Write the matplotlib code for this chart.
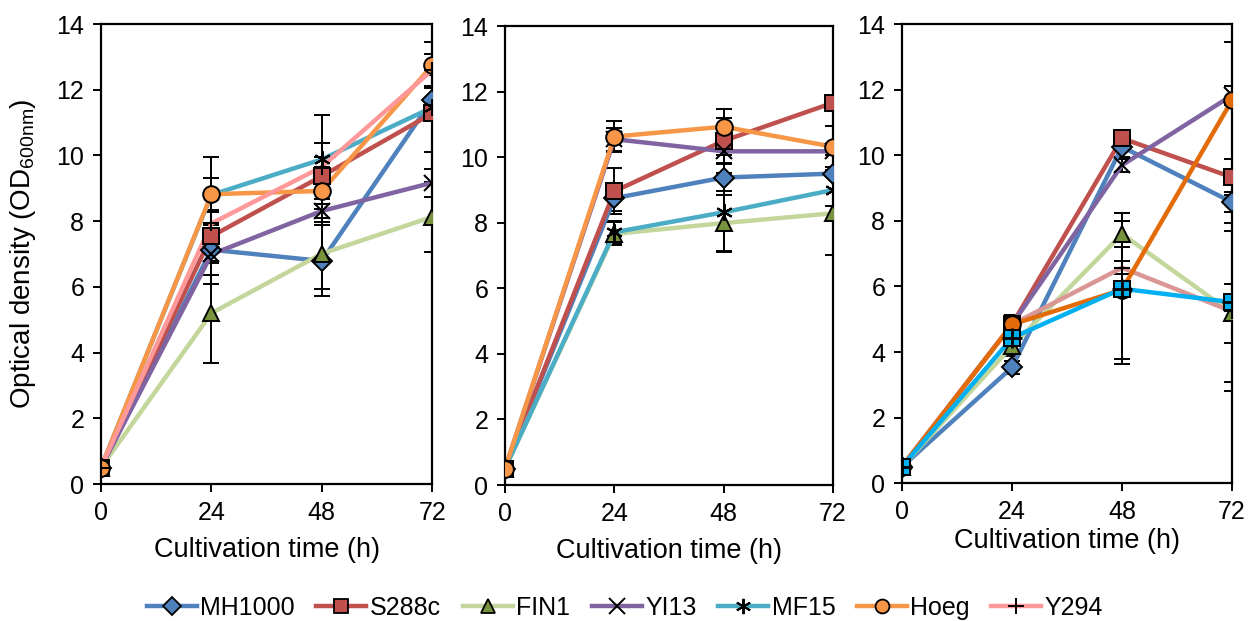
import matplotlib
matplotlib.use('Agg')
import matplotlib.pyplot as plt
from matplotlib.lines import Line2D

plt.rcParams['font.family'] = ['Liberation Sans', 'DejaVu Sans']
plt.rcParams['mathtext.default'] = 'regular'

hours = [0, 24, 48, 72]
strains = ['MH1000', 'S288c', 'FIN1', 'YI13', 'MF15', 'Hoeg', 'Y294']

# panel 1: OD600 means and standard deviations
p1_mean = {
    'MH1000': [0.5, 7.13, 6.79, 11.69],
    'S288c': [0.5, 7.54, 9.37, 11.28],
    'FIN1': [0.5, 5.20, 7.01, 8.13],
    'YI13': [0.5, 6.99, 8.31, 9.17],
    'MF15': [0.5, 8.80, 9.88, 11.46],
    'Hoeg': [0.5, 8.82, 8.92, 12.74],
    'Y294': [0.5, 7.93, 9.65, 12.60],
}
p1_sd = {
    'MH1000': [0.05, 0.78, 1.08, 0.40],
    'S288c': [0.05, 0.75, 1.00, 1.17],
    'FIN1': [0.05, 1.52, 1.08, 1.07],
    'YI13': [0.05, 0.90, 0.35, 0.43],
    'MF15': [0.05, 0.50, 1.35, 0.30],
    'Hoeg': [0.05, 1.14, 0.40, 0.70],
    'Y294': [0.05, 0.40, 0.30, 0.50],
}

# panel 2
p2_mean = {
    'MH1000': [0.5, 8.75, 9.38, 9.50],
    'S288c': [0.5, 8.96, 10.50, 11.66],
    'FIN1': [0.5, 7.66, 7.99, 8.29],
    'YI13': [0.5, 10.55, 10.18, 10.18],
    'MF15': [0.5, 7.71, 8.32, 9.00],
    'Hoeg': [0.5, 10.63, 10.93, 10.32],
}
p2_sd = {
    'MH1000': [0.05, 0.40, 0.40, 0.10],
    'S288c': [0.05, 0.70, 0.69, 0.10],
    'FIN1': [0.05, 0.35, 0.86, 1.27],
    'YI13': [0.05, 0.35, 0.10, 0.10],
    'MF15': [0.05, 0.35, 1.20, 0.48],
    'Hoeg': [0.05, 0.48, 0.53, 0.63],
}

# panel 3
p3_mean = {
    'MH1000': [0.5, 3.53, 10.26, 8.57],
    'S288c': [0.5, 4.84, 10.52, 9.33],
    'FIN1': [0.5, 4.18, 7.60, 5.19],
    'YI13': [0.5, 4.84, 9.70, 11.83],
    'MF15': [0.5, 4.84, 6.57, 5.24],
    'Hoeg': [0.5, 4.84, 5.90, 11.68],
    'Y294': [0.5, 4.43, 5.93, 5.52],
}
p3_sd = {
    'MH1000': [0.05, 0.20, 0.30, 0.30],
    'S288c': [0.05, 0.20, 0.20, 0.55],
    'FIN1': [0.05, 0.30, 0.40, 0.90],
    'YI13': [0.05, 0.20, 0.20, 0.30],
    'MF15': [0.05, 0.20, 0.20, 2.44],
    'Hoeg': [0.05, 0.30, 2.10, 1.78],
    'Y294': [0.05, 0.25, 2.30, 2.42],
}

# line colour, marker, marker face colour
style = {
    'MH1000': ('#4F81BD', 'D', '#4F81BD'),
    'S288c': ('#C0504D', 's', '#C0504D'),
    'FIN1': ('#C3D69B', '^', '#77933C'),
    'YI13': ('#8064A2', 'x', 'k'),
    'MF15': ('#4BACC6', (6, 2, 0), 'k'),
    'Hoeg': ('#F79646', 'o', '#F79646'),
    'Y294': ('#FF9999', '+', 'k'),
}
style3 = dict(style)
style3['MF15'] = ('#D99694', '+', 'k')
style3['Hoeg'] = ('#E36C09', 'o', '#E36C09')
style3['Y294'] = ('#00B0F0', 's', '#00B0F0')

fig = plt.figure(figsize=(12.5, 6.21), dpi=100)
boxes = [[0.0808, 0.2206, 0.265, 0.7407],
         [0.4040, 0.2190, 0.2624, 0.7390],
         [0.7216, 0.2220, 0.2640, 0.7390]]
panels = [(p1_mean, p1_sd, style), (p2_mean, p2_sd, style), (p3_mean, p3_sd, style3)]


def draw_panel(ax, means, sds, sty):
    # error bars first, then the lines on top
    for name in means:
        ax.errorbar(hours, means[name], yerr=sds[name], fmt='none', ecolor='k',
                    elinewidth=1.4, capsize=5.5, capthick=1.4, zorder=2)
    for name in means:
        col, mk, face = sty[name]
        ax.plot(hours, means[name], color=col, lw=3.2, zorder=3)
        if mk in ('x', '+') or isinstance(mk, tuple):
            ax.plot(hours, means[name], ls='none', marker=mk, color='k',
                    ms=12, mew=1.5, zorder=4)
        else:
            ms = 10 if mk == 'D' else 12
            ax.plot(hours, means[name], ls='none', marker=mk, mfc=face,
                    mec='k', mew=1.4, ms=ms, zorder=4)
    if sty is style3:
        ax.plot(hours, means['Y294'], ls='none', marker='+', color='k',
                ms=14, mew=2.0, zorder=5)
    ax.set_xlim(0, 72)
    ax.set_ylim(0, 14)
    ax.set_xticks(hours)
    ax.set_yticks(range(0, 15, 2))
    ax.tick_params(direction='out', length=6, width=1.4, labelsize=18, pad=6)
    for sp in ax.spines.values():
        sp.set_linewidth(1.6)


for i, (means, sds, sty) in enumerate(panels):
    ax = fig.add_axes(boxes[i])
    draw_panel(ax, means, sds, sty)
    ax.set_xlabel('Cultivation time (h)', fontsize=19.5, labelpad=9 if i < 2 else 3)
    if i == 0:
        ax.set_ylabel('Optical density (OD$_{600nm}$)', fontsize=20, labelpad=13)

handles = []
for name in strains:
    col, mk, face = style[name]
    if mk in ('x', '+') or isinstance(mk, tuple):
        h = Line2D([], [], color=col, lw=3.2, marker=mk, mec='k', mfc='k', ms=11, mew=1.4)
    else:
        h = Line2D([], [], color=col, lw=3.2, marker=mk, mfc=face, mec='k',
                   ms=9 if mk == 'D' else 10, mew=1.3)
    handles.append(h)
fig.legend(handles, strains, loc='lower center', bbox_to_anchor=(0.5, -0.035),
           ncol=7, frameon=False, fontsize=18, handlelength=2.0,
           handletextpad=0.15, columnspacing=0.85)

fig.savefig('out.png', dpi=100)
